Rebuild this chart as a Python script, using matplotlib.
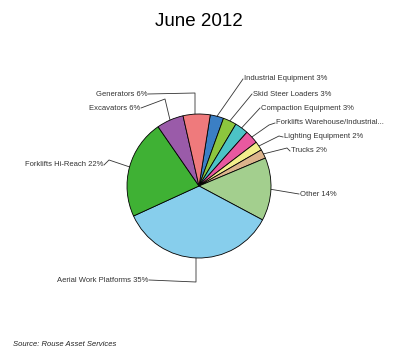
import numpy as np
import matplotlib
matplotlib.use("Agg")
import matplotlib.pyplot as plt

plt.rcParams['font.family'] = ['Liberation Sans', 'DejaVu Sans']

# data, clockwise from just right of the top
categories = ['Industrial Equipment', 'Skid Steer Loaders', 'Compaction Equipment',
              'Forklifts Warehouse/Industrial...', 'Lighting Equipment', 'Trucks',
              'Other', 'Aerial Work Platforms', 'Forklifts Hi-Reach', 'Excavators',
              'Generators']
shares = [3, 3, 3, 3, 2, 2, 14, 35, 22, 6, 6]
pct_text = ['3%', '3%', '3%', '', '2%', '2%', '14%', '35%', '22%', '6%', '6%']
colors = ['#3b7fc4', '#8cc63e', '#4cc3c6', '#e8599f', '#f2ee8c', '#dcb48c',
          '#a3cf8e', '#87ceec', '#3fb134', '#9a5ba9', '#ef7a7c']

# layout (figure pixels, y down)
W, H = 400, 361
cx, cy, r = 199, 186, 72
# text anchor, alignment, elbow points between pie edge and text
label_pos = [
    ((244, 79), 'left', []),
    ((253, 94), 'left', []),
    ((261, 108), 'left', []),
    ((276, 123), 'left', [(269, 125)]),
    ((284, 137), 'left', [(279, 136)]),
    ((291, 151), 'left', [(287, 148)]),
    ((300, 194), 'left', []),
    ((148, 280), 'right', [(196, 282)]),
    ((103, 165), 'right', [(109, 160)]),
    ((140, 108), 'right', [(165, 99)]),
    ((147, 94), 'right', [(195, 93)]),
]

fig = plt.figure(figsize=(4.0, 3.61), dpi=100)
over = fig.add_axes([0, 0, 1, 1])
over.set_xlim(0, W)
over.set_ylim(H, 0)
over.axis('off')

pax = fig.add_axes([(cx - r) / W, (H - cy - r) / H, 2 * r / W, 2 * r / H])
wedges, _ = pax.pie(shares, colors=colors, startangle=81, counterclock=False,
                    wedgeprops=dict(edgecolor='black', linewidth=0.6))
pax.set_xlim(-1, 1)
pax.set_ylim(-1, 1)
pax.axis('off')

for w, name, pct, (tpos, ha, elbows) in zip(wedges, categories, pct_text, label_pos):
    mid = np.deg2rad((w.theta1 + w.theta2) / 2)
    ex, ey = cx + r * np.cos(mid), cy - r * np.sin(mid)
    if name == 'Aerial Work Platforms':
        start = (elbows[0][0], ey)
    elif name == 'Generators':
        start = (elbows[0][0], cy - r)
    else:
        start = (ex, ey)
    end = (tpos[0] - 1, tpos[1]) if ha == 'left' else (tpos[0] + 1, tpos[1])
    pts = [start] + elbows + [end]
    over.plot([p[0] for p in pts], [p[1] for p in pts], color='#333333', lw=0.6)
    txt = name if pct == '' else f'{name} {pct}'
    over.text(tpos[0], tpos[1], txt, ha=ha, va='center', fontsize=5.5, color='#333333')

over.text(199, 21.5, 'June 2012', ha='center', va='center', fontsize=13.5, color='black')
over.text(13, 344, 'Source: Rouse Asset Services', ha='left', va='center',
          fontsize=5.5, style='italic', color='#222222')

fig.savefig('out.png', dpi=100)
